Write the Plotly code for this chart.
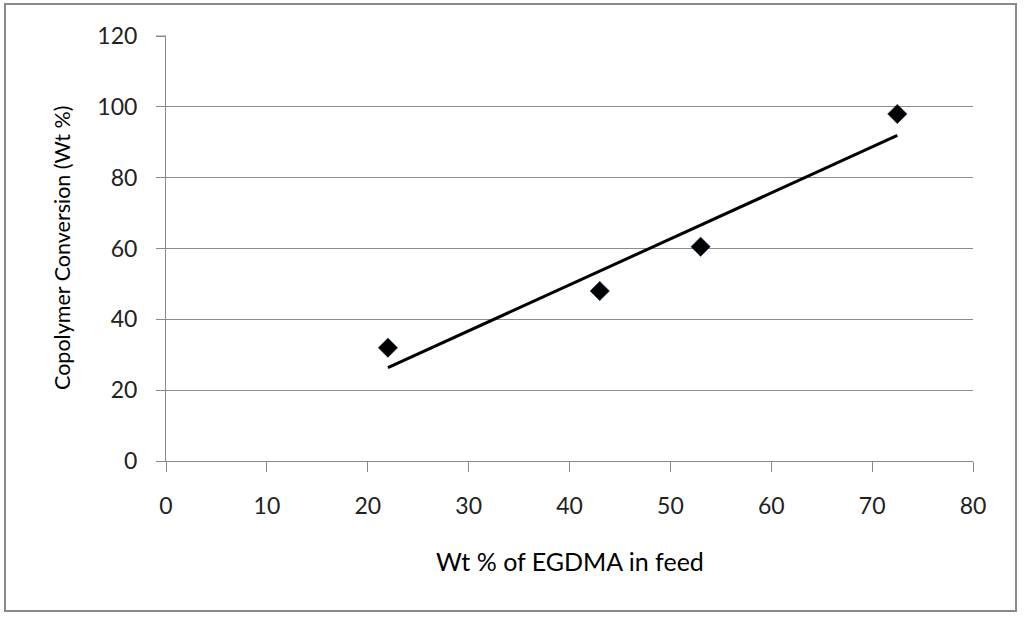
import numpy as np
import plotly.graph_objects as go

# Data
egdma_wt = [22, 43, 53, 72.5]
conversion = [32, 48, 60.5, 98]
x_ticks = [0, 10, 20, 30, 40, 50, 60, 70, 80]
y_ticks = [0, 20, 40, 60, 80, 100, 120]

# Linear trendline (least squares fit of the data)
slope, intercept = np.polyfit(egdma_wt, conversion, 1)
trend_x = [min(egdma_wt), max(egdma_wt)]
trend_y = [slope * v + intercept for v in trend_x]

FONT = "Lato"
fig = go.Figure()
fig.add_trace(go.Scatter(x=trend_x, y=trend_y, mode="lines",
                         line=dict(color="black", width=3), showlegend=False))
fig.add_trace(go.Scatter(x=egdma_wt, y=conversion, mode="markers",
                         marker=dict(symbol="diamond", size=15, color="black",
                                     line=dict(color="#2a4a7a", width=0.5)),
                         showlegend=False))

L, R, T, B = 166, 973, 36, 461
W, H = 1024, 617
pw, ph = R - L, B - T

def px(xp):
    return (xp - L) / pw

def py(yp):
    return (B - yp) / ph

fig.update_layout(
    width=W, height=H,
    margin=dict(l=L, r=W - R, t=T, b=H - B),
    paper_bgcolor="white", plot_bgcolor="white",
    font=dict(family=FONT, color="#222222"),
    xaxis=dict(range=[0, 80], tickvals=x_ticks, showgrid=False, zeroline=False,
               showline=True, linecolor="#888888", linewidth=1,
               ticks="outside", ticklen=10, tickcolor="#888888", tickwidth=1,
               tickfont=dict(size=23, family=FONT, color="#222222"),
               ticklabelstandoff=14),
    yaxis=dict(range=[0, 120], tickvals=y_ticks, showgrid=True, gridcolor="#8c8c8c",
               gridwidth=1, zeroline=False,
               showline=True, linecolor="#888888", linewidth=1,
               ticks="outside", ticklen=9, tickcolor="#888888", tickwidth=1,
               tickfont=dict(size=23, family=FONT, color="#222222"),
               ticklabelstandoff=14),
    shapes=[
        dict(type="rect", xref="paper", yref="paper",
             x0=px(5), x1=px(1016), y0=py(611), y1=py(4),
             line=dict(color="#8a8a8a", width=2), layer="below"),
        dict(type="line", xref="paper", yref="paper",
             x0=px(156), x1=0, y0=1, y1=1, line=dict(color="#8c8c8c", width=1)),
    ],
    annotations=[
        dict(text="Wt % of EGDMA in feed", xref="paper", yref="paper",
             x=px(570), y=py(561), xanchor="center", yanchor="middle",
             showarrow=False,
             font=dict(size=25, family=FONT, color="#000000")),
        dict(text="Copolymer Conversion (Wt %)", xref="paper", yref="paper",
             x=px(62), y=py(248), xanchor="center", yanchor="middle",
             showarrow=False, textangle=-90,
             font=dict(size=21.5, family=FONT, color="#000000")),
    ],
)

fig.write_html("out.html", config={"displayModeBar": False},
               post_script="document.body.style.margin='0';")
